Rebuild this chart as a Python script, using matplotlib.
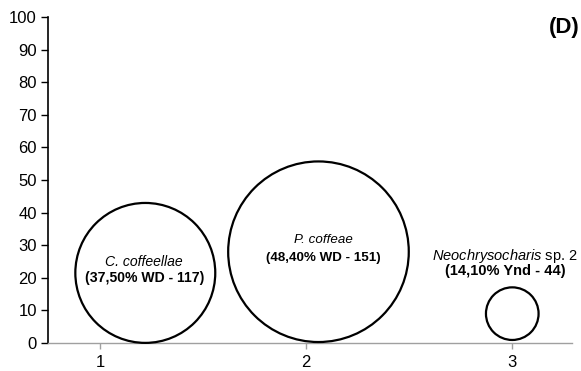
import matplotlib
matplotlib.use("Agg")
import matplotlib.pyplot as plt

plt.rcParams['font.family'] = ['Liberation Sans', 'DejaVu Sans']
plt.rcParams['mathtext.fontset'] = 'custom'
plt.rcParams['mathtext.it'] = 'Liberation Sans:italic'
plt.rcParams['mathtext.rm'] = 'Liberation Sans'

# Bubble data: position, value and parasitoid counts
x_vals = [1.22, 2.06, 3.0]
y_vals = [21.5, 28.0, 9.0]
counts = [117, 151, 44]
species = ["C. coffeellae", "P. coffeae", "$\\mathit{Neochrysocharis}$ sp. 2"]
species_italic = [True, True, False]
details = ["(37,50% WD - 117)", "(48,40% WD - 151)", "(14,10% Ynd - 44)"]
label_sizes = [10.1, 9.6, 10.5]
x_ticks = [1, 2, 3]
y_ticks = list(range(0, 101, 10))

dpi = 100
fig = plt.figure(figsize=(5.81, 3.71), dpi=dpi)
ax = fig.add_axes([0.0826, 0.0755, 0.902, 0.8785])

# bubble diameter grows linearly with the count
px_per_count = 0.598
sizes = [(2 * px_per_count * c * 72 / dpi) ** 2 for c in counts]
ax.scatter(x_vals, y_vals, s=sizes, facecolor='white', edgecolor='black',
           linewidths=1.6, zorder=3, clip_on=False)

label_dx = [-0.005, 0.025, -0.035]
label_offsets = [(3.3, -1.6), (3.6, -1.9), (17.6, 13.0)]
for x, y, sp, it, det, fs, dx, (dy1, dy2) in zip(x_vals, y_vals, species, species_italic,
                                                  details, label_sizes, label_dx, label_offsets):
    ax.text(x + dx, y + dy1, sp, ha='center', va='center', fontsize=fs,
            fontstyle='italic' if it else 'normal', zorder=4)
    ax.text(x + dx, y + dy2, det, ha='center', va='center', fontsize=fs,
            fontweight='bold', zorder=4)

ax.set_xlim(0.748, 3.29)
ax.set_ylim(0, 100)
ax.set_xticks(x_ticks)
ax.set_xticklabels([str(t) for t in x_ticks])
ax.set_yticks(y_ticks)

for side in ['top', 'right']:
    ax.spines[side].set_visible(False)
ax.spines['left'].set_color('black')
ax.spines['left'].set_linewidth(1.2)
ax.spines['bottom'].set_color('#a0a0a0')
ax.spines['bottom'].set_linewidth(1.0)

ax.tick_params(axis='y', direction='out', length=5, width=1.0, color='black',
               labelsize=12, pad=3)
ax.tick_params(axis='x', direction='out', length=4, width=1.0, color='#a0a0a0',
               labelsize=12, pad=5)

fig.text(0.998, 0.927, "(D)", ha='right', va='center', fontsize=16, fontweight='bold')

fig.savefig("out.png", dpi=dpi)
